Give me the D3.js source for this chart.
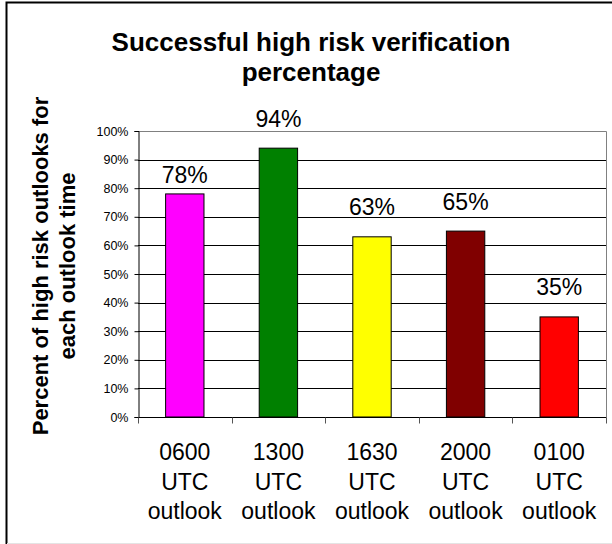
<!DOCTYPE html>
<html><head><meta charset="utf-8">
<script src="https://cdn.jsdelivr.net/npm/d3@7"></script>
<style>
html,body{margin:0;padding:0;background:#fff;}
svg{display:block;}
text{font-family:Arial,"Liberation Sans",sans-serif;fill:#000;}
</style></head>
<body>
<svg id="c" width="612" height="544"></svg>
<script>
const categories = ["0600 UTC outlook","1300 UTC outlook","1630 UTC outlook","2000 UTC outlook","0100 UTC outlook"];
const values = [0.78, 0.94, 0.63, 0.65, 0.35];
const barColors = ["#FF00FF","#008000","#FFFF00","#800000","#FF0000"];
const yTicks = [0,0.1,0.2,0.3,0.4,0.5,0.6,0.7,0.8,0.9,1.0];
const titleLines = ["Successful high risk verification","percentage"];
const yLabelLines = ["Percent of high risk outlooks for","each outlook time"];

(function(){
const svg = d3.select("#c");
const pL = 138, pR = 606, pT = 131, pB = 417;

// outer frame
svg.append("rect").attr("x",6.5).attr("y",2.5).attr("width",610).attr("height",545)
  .attr("fill","none").attr("stroke","#000").attr("stroke-width",2);
svg.append("line").attr("x1",7).attr("x2",612).attr("y1",543.5).attr("y2",543.5)
  .attr("stroke","#e4e4e4").attr("stroke-width",1);

const x = d3.scaleBand().domain(categories).range([pL,pR]).paddingInner(0).paddingOuter(0);
const y = d3.scaleLinear().domain([0,1]).range([pB,pT]);

// gridlines
svg.append("g").selectAll("line").data(yTicks.slice(1,-1)).join("line")
  .attr("x1",pL).attr("x2",pR).attr("y1",d=>Math.round(y(d))+0.5).attr("y2",d=>Math.round(y(d))+0.5)
  .attr("stroke","#000").attr("stroke-width",1);

// plot area border (top/right)
svg.append("path").attr("d",`M${pL},${pT+0.5}H${pR+0.5}V${pB}`)
  .attr("fill","none").attr("stroke","#808080").attr("stroke-width",1);

// bars
const bw = x.bandwidth()*0.41;
svg.append("g").selectAll("rect").data(values).join("rect")
  .attr("x",(d,i)=>x(categories[i])+x.bandwidth()/2-bw/2)
  .attr("y",d=>y(d))
  .attr("width",bw)
  .attr("height",d=>pB-y(d))
  .attr("fill",(d,i)=>barColors[i])
  .attr("stroke","#000").attr("stroke-width",1);

// data labels (first label sits a bit lower in the original)
const labelGap = 21.5;
const labelShift = [10.5,0,0,0,0];
svg.append("g").selectAll("text").data(values).join("text")
  .attr("x",(d,i)=>x(categories[i])+x.bandwidth()/2)
  .attr("y",(d,i)=>y(d)-labelGap+labelShift[i])
  .attr("text-anchor","middle").attr("font-size",23)
  .text(d=>Math.round(d*100)+"%");

// y axis
const yAxis = d3.axisLeft(y).tickValues(yTicks).tickFormat(d=>Math.round(d*100)+"%").tickSize(4).tickPadding(6);
const ya = svg.append("g").attr("transform",`translate(${pL+0.5},0)`).call(yAxis);
ya.select(".domain").attr("stroke","#000");
ya.selectAll(".tick line").attr("stroke","#000");
ya.selectAll(".tick text").attr("font-size",12.5).attr("font-family","Arial, 'Liberation Sans', sans-serif");

// x axis
const xa = svg.append("g").attr("transform",`translate(0,${pB+0.5})`);
xa.append("line").attr("x1",pL).attr("x2",pR+0.5).attr("stroke","#000");
const bounds = categories.map(c=>x(c)).concat([pR]);
xa.selectAll(".xt").data(bounds).join("line").attr("class","xt")
  .attr("x1",d=>Math.round(d)+0.5).attr("x2",d=>Math.round(d)+0.5).attr("y1",0).attr("y2",6)
  .attr("stroke","#555");

// category labels
const cl = svg.append("g").selectAll("text").data(categories).join("text")
  .attr("text-anchor","middle").attr("font-size",23);
cl.each(function(c){
  const t = d3.select(this);
  c.split(" ").forEach((w,k)=>{
    t.append("tspan").attr("x",x(c)+x.bandwidth()/2).attr("y",460+k*29.5).text(w);
  });
});

// title
svg.append("g").selectAll("text").data(titleLines).join("text")
  .attr("x",311).attr("y",(d,i)=>51+i*30)
  .attr("text-anchor","middle").attr("font-size",26).attr("font-weight","bold")
  .text(d=>d);

// y label
svg.append("g").selectAll("text").data(yLabelLines).join("text")
  .attr("transform",(d,i)=>`translate(${48+i*27},266) rotate(-90)`)
  .attr("text-anchor","middle").attr("font-size",22).attr("font-weight","bold")
  .text(d=>d);
})();
</script>
</body></html>
